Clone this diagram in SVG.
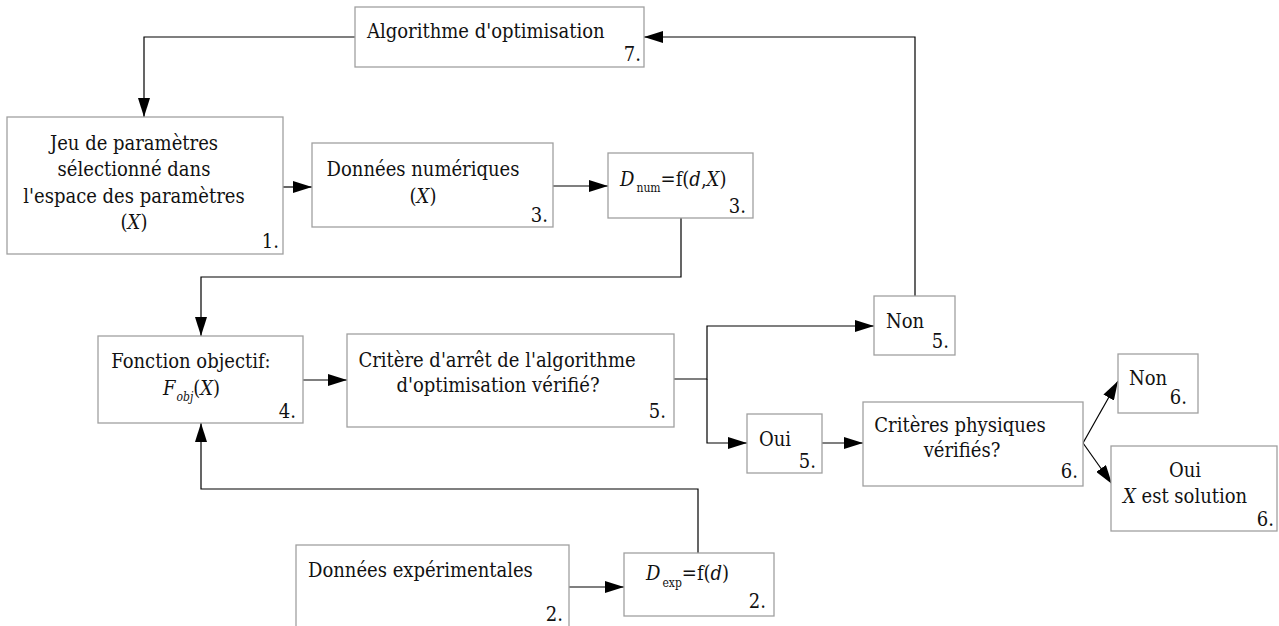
<svg xmlns="http://www.w3.org/2000/svg" width="1279" height="626" viewBox="0 0 1279 626">
<style>
.box{fill:#fff;stroke:#a0a0a0;stroke-width:1.3}
text{font-family:"DejaVu Serif Condensed","DejaVu Serif","Liberation Serif",serif;font-size:20px;fill:#111}
.c{text-anchor:middle}
.e{text-anchor:end}
.it{font-style:italic}
.sub{font-size:12px}
.ln{fill:none;stroke:#000;stroke-width:1.2}
</style>
<defs>
<marker id="ah" viewBox="0 0 19 12" refX="19" refY="6" markerWidth="19" markerHeight="12" markerUnits="userSpaceOnUse" orient="auto">
<path d="M0,0 L19,6 L0,12 Z" fill="#000"/>
</marker>
</defs>
<g id="connectors">
<path class="ln" d="M355,37 H144 V117" marker-end="url(#ah)"/>
<path class="ln" d="M283,187 H312" marker-end="url(#ah)"/>
<path class="ln" d="M553,186 H608" marker-end="url(#ah)"/>
<path class="ln" d="M681,218 V277 H201 V336" marker-end="url(#ah)"/>
<path class="ln" d="M303,380 H347" marker-end="url(#ah)"/>
<path class="ln" d="M674,379 H707 V326 H874" marker-end="url(#ah)"/>
<path class="ln" d="M707,379 V443 H747" marker-end="url(#ah)"/>
<path class="ln" d="M915,296 V37 H644" marker-end="url(#ah)"/>
<path class="ln" d="M822,443 H863" marker-end="url(#ah)"/>
<path class="ln" d="M1083,443 L1118,381" marker-end="url(#ah)"/>
<path class="ln" d="M1083,443 L1112,484" marker-end="url(#ah)"/>
<path class="ln" d="M569,587 H624" marker-end="url(#ah)"/>
<path class="ln" d="M698,553 V489 H201 V423" marker-end="url(#ah)"/>
</g>
<g id="n7">
<rect class="box" x="355" y="7" width="289" height="60"/>
<text x="367" y="38">Algorithme d'optimisation</text>
<text class="e" x="641" y="61">7.</text>
</g>
<g id="n1">
<rect class="box" x="7" y="117" width="276" height="137"/>
<text class="c" x="134" y="150">Jeu de paramètres</text>
<text class="c" x="134" y="176">sélectionné dans</text>
<text class="c" x="134" y="203">l'espace des paramètres</text>
<text class="c" x="134" y="229">(<tspan class="it">X</tspan>)</text>
<text class="e" x="279" y="248">1.</text>
</g>
<g id="n3a">
<rect class="box" x="312" y="143" width="241" height="84"/>
<text class="c" x="423" y="176">Données numériques</text>
<text class="c" x="423" y="203">(<tspan class="it">X</tspan>)</text>
<text class="e" x="548" y="222">3.</text>
</g>
<g id="n3b">
<rect class="box" x="608" y="153" width="145" height="65"/>
<text x="620" y="186"><tspan class="it">D</tspan><tspan class="sub" dx="2" dy="6">num</tspan><tspan dy="-6">=f(</tspan><tspan class="it">d</tspan>,<tspan class="it">X</tspan>)</text>
<text class="e" x="746" y="213">3.</text>
</g>
<g id="n4">
<rect class="box" x="98" y="336" width="205" height="87"/>
<text class="c" x="191" y="368">Fonction objectif:</text>
<text x="163" y="395"><tspan class="it">F</tspan><tspan class="sub it" dx="1" dy="6">obj</tspan><tspan dy="-6">(</tspan><tspan class="it">X</tspan>)</text>
<text class="e" x="296" y="418">4.</text>
</g>
<g id="n5">
<rect class="box" x="347" y="334" width="327" height="93"/>
<text class="c" x="497" y="367">Critère d'arrêt de l'algorithme</text>
<text class="c" x="498" y="392">d'optimisation vérifié?</text>
<text class="e" x="666" y="418">5.</text>
</g>
<g id="n5non">
<rect class="box" x="874" y="296" width="81" height="59"/>
<text x="886" y="328">Non</text>
<text class="e" x="949" y="348">5.</text>
</g>
<g id="n5oui">
<rect class="box" x="747" y="414" width="75" height="59"/>
<text x="759" y="446">Oui</text>
<text class="e" x="816" y="468">5.</text>
</g>
<g id="n6">
<rect class="box" x="863" y="402" width="220" height="84"/>
<text class="c" x="960" y="432">Critères physiques</text>
<text class="c" x="962" y="457">vérifiés?</text>
<text class="e" x="1078" y="478">6.</text>
</g>
<g id="n6non">
<rect class="box" x="1118" y="354" width="80" height="59"/>
<text x="1129" y="385">Non</text>
<text class="e" x="1187" y="404">6.</text>
</g>
<g id="n6oui">
<rect class="box" x="1111" y="446" width="166" height="85"/>
<text class="c" x="1185" y="477">Oui</text>
<text x="1123" y="503"><tspan class="it">X</tspan> est solution</text>
<text class="e" x="1274" y="526">6.</text>
</g>
<g id="n2a">
<rect class="box" x="296" y="545" width="273" height="95"/>
<text x="308" y="577">Données expérimentales</text>
<text class="e" x="563" y="621">2.</text>
</g>
<g id="n2b">
<rect class="box" x="624" y="553" width="150" height="63"/>
<text x="646" y="580"><tspan class="it">D</tspan><tspan class="sub" dx="2" dy="7">exp</tspan><tspan dy="-7">=f(</tspan><tspan class="it">d</tspan>)</text>
<text class="e" x="766" y="608">2.</text>
</g>
</svg>
